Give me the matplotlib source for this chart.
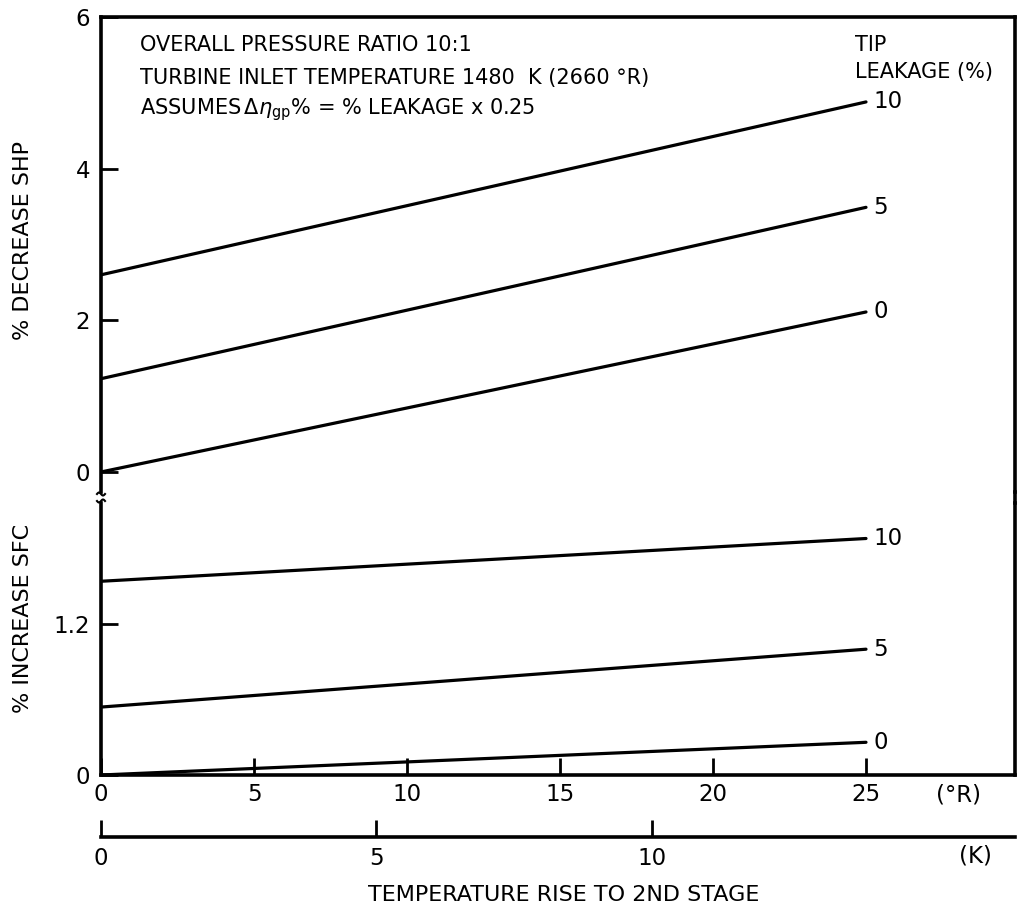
import matplotlib
matplotlib.use("Agg")
import matplotlib.pyplot as plt
from matplotlib.lines import Line2D
import numpy as np

plt.rcParams['font.family'] = ['DejaVu Sans']

# Data
temp_rise_R = [0, 25]
leakage_levels = ['0', '5', '10']
shp_decrease = {'0': [0.0, 2.11], '5': [1.23, 3.49], '10': [2.60, 4.88]}
sfc_increase = {'0': [0.0, 0.26], '5': [0.54, 1.00], '10': [1.54, 1.88]}
shp_ticks = [0, 2, 4, 6]
sfc_ticks = [0, 1.2]
R_ticks = [0, 5, 10, 15, 20, 25]
K_ticks = [0, 5, 10]

W, H = 1018, 909
fig = plt.figure(figsize=(W/100, H/100), dpi=100)

def fx(px): return px / W
def fy(py): return 1 - py / H

left, right = 101, 1015
top_t, top_b = 17, 492
bot_t, bot_b = 503, 775
xmax = (right - left) / 30.6

lw_sp = 2.6
lw_ln = 2.3
fs = 15
fst = 16.5

ax1 = fig.add_axes([fx(left), fy(top_b), fx(right-left), (top_b-top_t)/H])
ax2 = fig.add_axes([fx(left), fy(bot_b), fx(right-left), (bot_b-bot_t)/H])

for ax in (ax1, ax2):
    ax.set_xlim(0, xmax)
    for s in ax.spines.values():
        s.set_linewidth(lw_sp)
ax1.set_ylim(6 - (top_b-top_t)/75.83, 6)
ax2.set_ylim(0, (bot_b-bot_t)/125.8)
ax1.spines['bottom'].set_visible(False)
ax2.spines['top'].set_visible(False)

for lev in leakage_levels:
    ax1.plot(temp_rise_R, shp_decrease[lev], color='black', lw=lw_ln, solid_capstyle='round')
    ax1.text(temp_rise_R[-1] + 0.25, shp_decrease[lev][-1], lev, fontsize=fst, va='center', ha='left')
    ax2.plot(temp_rise_R, sfc_increase[lev], color='black', lw=lw_ln, solid_capstyle='round')
    ax2.text(temp_rise_R[-1] + 0.25, sfc_increase[lev][-1], lev, fontsize=fst, va='center', ha='left')

ax1.set_xticks([])
ax1.set_yticks(shp_ticks)
ax1.set_yticklabels([str(t) for t in shp_ticks])
ax1.tick_params(axis='y', direction='in', length=12, width=2, labelsize=fst, pad=8)
ax2.set_yticks(sfc_ticks)
ax2.set_yticklabels(['0', '1.2'])
ax2.tick_params(axis='y', direction='in', length=12, width=2, labelsize=fst, pad=8)
ax2.set_xticks(R_ticks)
ax2.set_xticklabels([str(t) for t in R_ticks])
ax2.tick_params(axis='x', direction='in', length=12, width=2, labelsize=fst, pad=6)
fig.text(fx(958), fy(795), '(°R)', fontsize=fst, ha='center', va='center')

fig.text(fx(23), fy(240), '% DECREASE SHP', fontsize=16, rotation=90, ha='center', va='center')
fig.text(fx(23), fy(618), '% INCREASE SFC', fontsize=16, rotation=90, ha='center', va='center')

fig.text(fx(140), fy(45), 'OVERALL PRESSURE RATIO 10:1', fontsize=fs, va='center')
fig.text(fx(140), fy(78), 'TURBINE INLET TEMPERATURE 1480  K (2660 °R)', fontsize=fs, va='center')
fig.text(fx(140), fy(110), r'ASSUMES$\,\Delta\eta_{\rm gp}$% = % LEAKAGE x 0.25', fontsize=fs, va='center')
fig.text(fx(855), fy(45), 'TIP', fontsize=fs, va='center')
fig.text(fx(855), fy(72), 'LEAKAGE (%)', fontsize=fs, va='center')

# right border across the break
fig.add_artist(Line2D([fx(right), fx(right)], [fy(top_b), fy(bot_t)], color='black',
                      lw=lw_sp, transform=fig.transFigure))
# break squiggles on left spine
t = np.linspace(0, 1, 30)
for yc, sgn in ((494, 1), (501, -1)):
    xs = fx(left) + fx(-4 + 8 * t)
    ys = fy(yc) + sgn * (1.5 / H) * np.sin(2 * np.pi * t)
    fig.add_artist(Line2D(xs, ys, color='black', lw=1.5, transform=fig.transFigure))

# Kelvin axis
axk = fig.add_axes([fx(left), fy(837), fx(right-left), 0.001])
axk.set_xlim(0, xmax / 1.8)
for s in ('top', 'left', 'right'):
    axk.spines[s].set_visible(False)
axk.spines['bottom'].set_linewidth(lw_sp)
axk.set_yticks([])
axk.set_xticks(K_ticks)
axk.set_xticklabels([str(t) for t in K_ticks])
axk.tick_params(axis='x', direction='in', length=12, width=2, labelsize=fst, pad=7)
axk.patch.set_visible(False)
fig.text(fx(975), fy(856), '(K)', fontsize=fst, ha='center', va='center')
fig.text(fx(564), fy(895), 'TEMPERATURE RISE TO 2ND STAGE', fontsize=16, ha='center', va='center')

fig.savefig('out.png', dpi=100)
